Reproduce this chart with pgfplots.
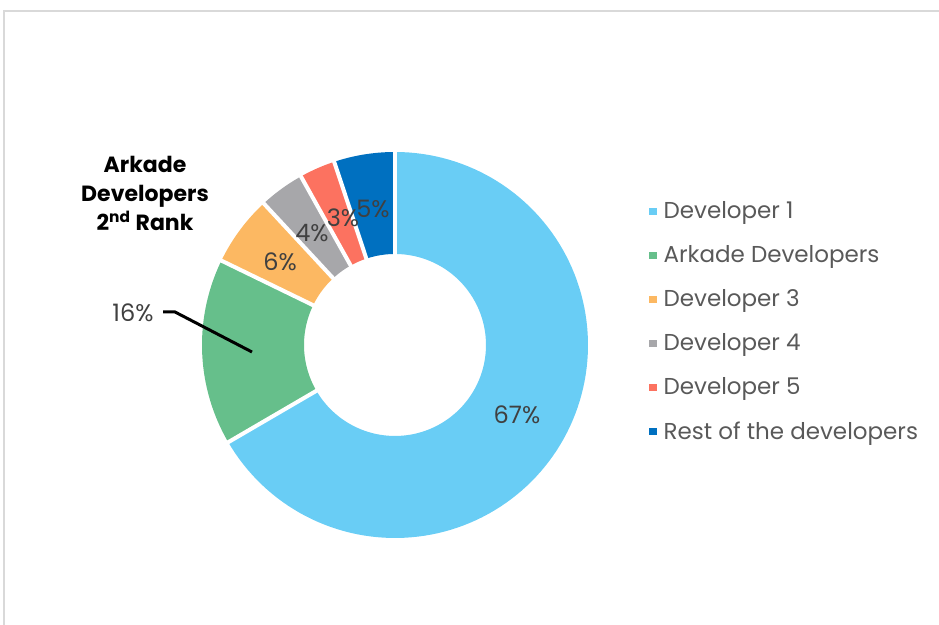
\documentclass[border=0pt]{standalone}
\usepackage{pgfplots}
\pgfplotsset{compat=1.18}
\usepackage{fontspec}
\setmainfont{Poppins}
\definecolor{c1}{HTML}{69CDF5}
\definecolor{c2}{HTML}{66BF8B}
\definecolor{c3}{HTML}{FCB862}
\definecolor{c4}{HTML}{A7A7AA}
\definecolor{c5}{HTML}{FC7260}
\definecolor{c6}{HTML}{0070C0}
\definecolor{legtext}{HTML}{595959}
\definecolor{labtext}{HTML}{404040}
\definecolor{framegray}{HTML}{D9D9D9}
% shares (percent)
\def\vA{66.6}
\def\vB{15.6}
\def\vC{5.9}
\def\vD{3.8}
\def\vE{3.0}
\def\vF{5.1}
\pgfmathsetmacro\aA{90}
\pgfmathsetmacro\aB{\aA-3.6*\vA}
\pgfmathsetmacro\aC{\aB-3.6*\vB}
\pgfmathsetmacro\aD{\aC-3.6*\vC}
\pgfmathsetmacro\aE{\aD-3.6*\vD}
\pgfmathsetmacro\aF{\aE-3.6*\vE}
\pgfmathsetmacro\aG{\aF-3.6*\vF}
\begin{document}
\begin{tikzpicture}
\begin{axis}[x=0.5pt,y=0.5pt,
  xmin=-395,xmax=544,ymin=-280,ymax=345,
  hide axis, clip=false,
  legend style={at={(axis cs:254,148)}, anchor=north west, draw=none, fill=none,
    font=\fontsize{11.5}{13}\selectfont, text=legtext, row sep=8pt, inner sep=0pt,
    column sep=1.5pt, nodes={inner sep=2pt}},
  legend cell align=left,
  legend image code/.code={\fill[#1, draw=none, line width=0pt] (0pt,-1.8pt) rectangle (3.6pt,1.8pt);},
  samples=120]
\addplot[c1, line width=51pt, domain=\aB:\aA] ({142*cos(x)},{142*sin(x)});
\addplot[c2, line width=51pt, domain=\aC:\aB] ({142*cos(x)},{142*sin(x)});
\addplot[c3, line width=51pt, domain=\aD:\aC] ({142*cos(x)},{142*sin(x)});
\addplot[c4, line width=51pt, domain=\aE:\aD] ({142*cos(x)},{142*sin(x)});
\addplot[c5, line width=51pt, domain=\aF:\aE] ({142*cos(x)},{142*sin(x)});
\addplot[c6, line width=51pt, domain=\aG:\aF] ({142*cos(x)},{142*sin(x)});
\legend{Developer 1, Arkade Developers, Developer 3, Developer 4, Developer 5, Rest of the developers}
% white separators
\addplot[white, line width=2pt, domain=88:196, samples=2, forget plot] ({x*cos(\aA)},{x*sin(\aA)});
\addplot[white, line width=2pt, domain=88:196, samples=2, forget plot] ({x*cos(\aB)},{x*sin(\aB)});
\addplot[white, line width=2pt, domain=88:196, samples=2, forget plot] ({x*cos(\aC)},{x*sin(\aC)});
\addplot[white, line width=2pt, domain=88:196, samples=2, forget plot] ({x*cos(\aD)},{x*sin(\aD)});
\addplot[white, line width=2pt, domain=88:196, samples=2, forget plot] ({x*cos(\aE)},{x*sin(\aE)});
\addplot[white, line width=2pt, domain=88:196, samples=2, forget plot] ({x*cos(\aF)},{x*sin(\aF)});
% labels
\node[font=\fontsize{12}{14}\selectfont, text=labtext] at (axis cs:122,-70) {67\%};
\node[font=\fontsize{12}{14}\selectfont, text=labtext] at (axis cs:-115,83) {6\%};
\node[font=\fontsize{12}{14}\selectfont, text=labtext] at (axis cs:-83,112) {4\%};
\node[font=\fontsize{12}{14}\selectfont, text=labtext] at (axis cs:-52,127) {3\%};
\node[font=\fontsize{12}{14}\selectfont, text=labtext] at (axis cs:-22,136) {5\%};
\node[font=\fontsize{12}{14}\selectfont, text=labtext] at (axis cs:-262,32) {16\%};
\draw[line width=1.5pt] (axis cs:-232,33) -- (axis cs:-220,33) -- (axis cs:-143,-7);
\node[font=\fontsize{11}{14.5}\selectfont\bfseries, align=center] at (axis cs:-250,152) {Arkade\\Developers\\2\textsuperscript{nd} Rank};
% chart frame
\draw[framegray, line width=1pt] (axis cs:-391,-300) -- (axis cs:-391,334) -- (axis cs:560,334);
\end{axis}
\pgfresetboundingbox
\path (current axis.south west) rectangle (current axis.north east);
\end{tikzpicture}
\end{document}
